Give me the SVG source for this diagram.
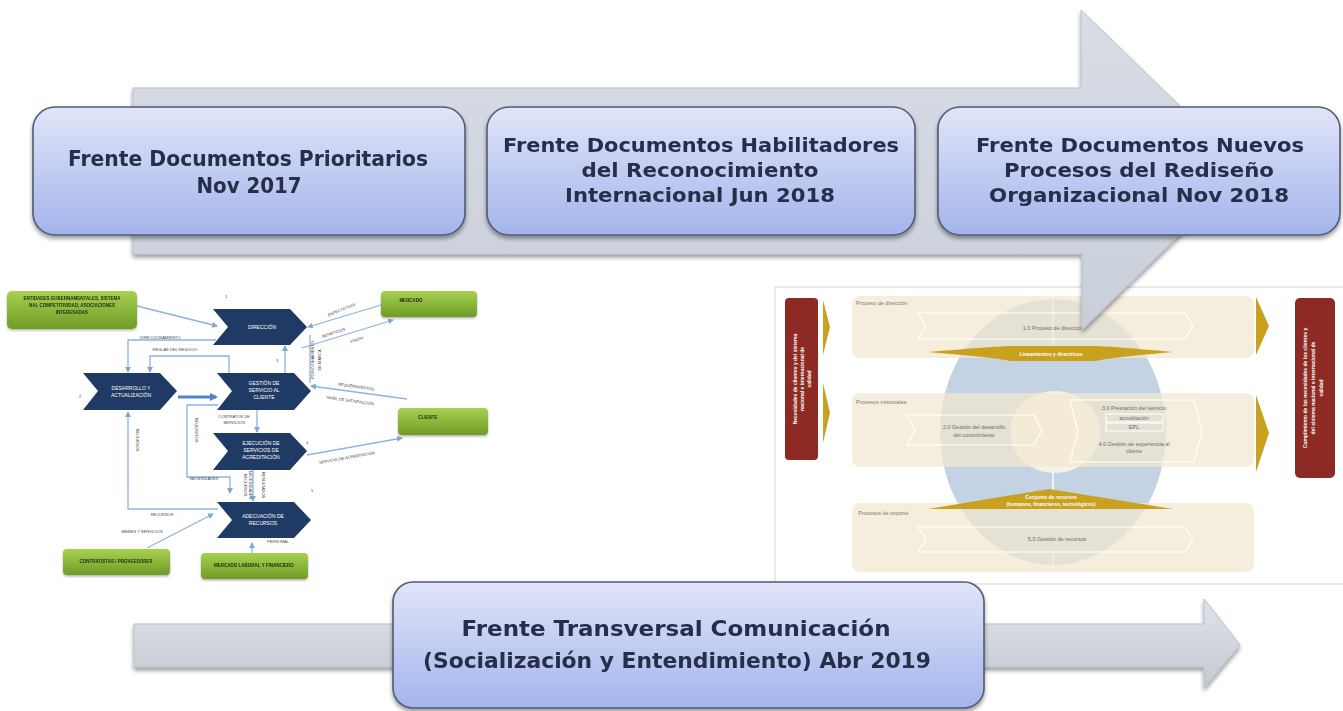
<svg xmlns="http://www.w3.org/2000/svg" width="1343" height="711" viewBox="0 0 1343 711">
<defs>
<linearGradient id="gBox" x1="0" y1="0" x2="0" y2="1"><stop offset="0" stop-color="#e1e5f8"/><stop offset="1" stop-color="#a4b4ec"/></linearGradient>
<linearGradient id="gArrow" x1="0" y1="0" x2="0" y2="1"><stop offset="0" stop-color="#d9dde6"/><stop offset="1" stop-color="#c9cfda"/></linearGradient>
<linearGradient id="gArrow2" x1="0" y1="0" x2="0" y2="1"><stop offset="0" stop-color="#e0e3ea"/><stop offset="1" stop-color="#c3c8d2"/></linearGradient>
<linearGradient id="gGreen" x1="0" y1="0" x2="0" y2="1"><stop offset="0" stop-color="#a8d150"/><stop offset="1" stop-color="#6f9c27"/></linearGradient>
<filter id="sh" x="-10%" y="-10%" width="120%" height="130%"><feDropShadow dx="0" dy="3" stdDeviation="2" flood-color="#000" flood-opacity="0.4"/></filter>
<filter id="shs" x="-10%" y="-10%" width="120%" height="140%"><feDropShadow dx="0" dy="1.5" stdDeviation="1" flood-color="#000" flood-opacity="0.3"/></filter>
<marker id="ah" markerWidth="6" markerHeight="6" refX="5" refY="3" orient="auto" markerUnits="userSpaceOnUse"><path d="M0,0 L6,3 L0,6 Z" fill="#7fa8dc"/></marker>
<marker id="ahb" markerWidth="8" markerHeight="8" refX="6" refY="4" orient="auto" markerUnits="userSpaceOnUse"><path d="M0,0 L8,4 L0,8 Z" fill="#4f85c9"/></marker>
<style>
.box{fill:url(#gBox);stroke:#515b74;stroke-width:1.6}
.lbl{font-family:"DejaVu Sans",sans-serif;font-weight:bold;fill:#262d48;text-anchor:middle}
.grn{fill:url(#gGreen)}
.gt{font-family:"Liberation Sans",sans-serif;font-weight:bold;font-size:4.5px;fill:#1e2a10;text-anchor:middle}
.chev{fill:#1f3a64}
.ct{font-family:"Liberation Sans",sans-serif;font-size:5px;fill:#ffffff;text-anchor:middle}
.cn{fill:none;stroke:#8db3e2;stroke-width:1.3}
.cl{font-family:"Liberation Sans",sans-serif;font-size:4px;fill:#444;text-anchor:middle}
.pt{font-family:"Liberation Sans",sans-serif;font-size:5.5px;fill:#7a7a7a}
.pc{font-family:"Liberation Sans",sans-serif;font-size:5.5px;fill:#6a6a6a;text-anchor:middle}
.wt{font-family:"Liberation Sans",sans-serif;font-weight:bold;font-size:5px;fill:#ffffff;text-anchor:middle}
.panel{fill:#f3e8cf;opacity:0.72}
.pch{fill:none;stroke:#ffffff;stroke-width:1.2}
.gold{fill:#c9a11e}
.red{fill:#8d2a24}
</style>
</defs>
<rect width="1343" height="711" fill="#ffffff"/>

<!-- left process map -->
<g id="processmap">
<g id="connectors">
<path class="cn" d="M137,306 L217,326" marker-end="url(#ah)"/>
<path class="cn" d="M216,340 H128 V372" marker-end="url(#ah)"/>
<path class="cn" d="M229,373 V356 H150 V372" marker-end="url(#ah)"/>
<path d="M178,397 H216" stroke="#4f85c9" stroke-width="3" fill="none" marker-end="url(#ahb)"/>
<path class="cn" d="M285,373 V346" marker-end="url(#ah)"/>
<path class="cn" d="M381,305 L308,327" marker-end="url(#ah)"/>
<path class="cn" d="M302,348 L393,320" marker-end="url(#ah)"/>
<path class="cn" d="M310,335 V383"/>
<path class="cn" d="M407,399 L311,386" marker-end="url(#ah)"/>
<path class="cn" d="M257,410 V432" marker-end="url(#ah)"/>
<path class="cn" d="M307,455 L402,438" marker-end="url(#ah)"/>
<path class="cn" d="M218,405 H187 V477 H230 V493" marker-end="url(#ah)"/>
<path class="cn" d="M218,509 H128 V412" marker-end="url(#ah)"/>
<path class="cn" d="M147,548 L213,514" marker-end="url(#ah)"/>
<path class="cn" d="M252,553 V543" marker-end="url(#ah)"/>
<path class="cn" d="M253,470 V501" marker-end="url(#ah)"/>
<text class="cl" x="160" y="339">DIRECCIONAMIENTO</text>
<text class="cl" x="175" y="351">REGLAS DEL NEGOCIO</text>
<text class="cl" transform="translate(342,311) rotate(-22)">EXPECTATIVAS</text>
<text class="cl" transform="translate(334,334) rotate(-18)">BENEFICIOS</text>
<text class="cl" transform="translate(357,341) rotate(-18)">VISIÓN</text>
<text class="cl" transform="translate(314,360) rotate(-90)">POSICIONAMIENTO</text>
<text class="cl" transform="translate(321,360) rotate(-90)">DE MARCA</text>
<text class="cl" transform="translate(356,388) rotate(8)">REQUERIMIENTOS</text>
<text class="cl" transform="translate(350,402) rotate(8)">NIVEL DE SATISFACCIÓN</text>
<text class="cl" x="234" y="418">CONTRATOS DE</text>
<text class="cl" x="234" y="424">SERVICIOS</text>
<text class="cl" transform="translate(347,459) rotate(-10)">SERVICIO DE ACREDITACIÓN</text>
<text class="cl" transform="translate(195,430) rotate(90)">REQUISITOS</text>
<text class="cl" x="204" y="480">NECESIDADES</text>
<text class="cl" transform="translate(136,440) rotate(90)">RECURSOS</text>
<text class="cl" x="162" y="516">RECURSOS</text>
<text class="cl" x="142" y="533">BIENES Y SERVICIOS</text>
<text class="cl" x="278" y="543">PERSONAL</text>
<text class="cl" transform="translate(244,485) rotate(90)">RECURSOS</text>
<text class="cl" transform="translate(249,485) rotate(90)">NECESIDADES</text>
<text class="cl" transform="translate(262,485) rotate(90)">RESULTADOS</text>
<text class="cl" x="226" y="298">1</text>
<text class="cl" x="80" y="398">2</text>
<text class="cl" x="277" y="362">3</text>
<text class="cl" x="307" y="444">4</text>
<text class="cl" x="312" y="492">5</text>
</g>
<g id="g-entidades" filter="url(#shs)"><rect class="grn" x="7" y="291" width="130" height="38" rx="5"/>
<text class="gt" x="72" y="300">ENTIDADES GUBERNAMENTALES, SISTEMA</text>
<text class="gt" x="72" y="307">NAL COMPETITIVIDAD, ASOCIACIONES</text>
<text class="gt" x="72" y="314">INTERESADAS</text></g>
<g id="g-mercado" filter="url(#shs)"><rect class="grn" x="381" y="291" width="96" height="26" rx="4"/><text class="gt" x="411" y="302">MERCADO</text></g>
<g id="g-cliente" filter="url(#shs)"><rect class="grn" x="398" y="408" width="90" height="27" rx="4"/><text class="gt" x="428" y="419">CLIENTE</text></g>
<g id="g-contratistas" filter="url(#shs)"><rect class="grn" x="63" y="549" width="107" height="26" rx="4"/><text class="gt" x="116" y="563">CONTRATISTAS / PROVEEDORES</text></g>
<g id="g-laboral" filter="url(#shs)"><rect class="grn" x="201" y="553" width="107" height="26" rx="4"/><text class="gt" x="254" y="567">MERCADO LABORAL Y FINANCIERO</text></g>
<g id="c-direccion"><polygon class="chev" points="213,309 290,309 307,327 290,345 213,345 228,327"/><text class="ct" x="262" y="329">DIRECCIÓN</text></g>
<g id="c-desarrollo"><polygon class="chev" points="83,373 160,373 177,391 160,410 83,410 98,391"/><text class="ct" x="131" y="390">DESARROLLO Y</text><text class="ct" x="131" y="397">ACTUALIZACIÓN</text></g>
<g id="c-gestion"><polygon class="chev" points="217,373 294,373 311,391 294,410 217,410 232,391"/><text class="ct" x="264" y="385">GESTIÓN DE</text><text class="ct" x="264" y="392">SERVICIO AL</text><text class="ct" x="264" y="399">CLIENTE</text></g>
<g id="c-ejecucion"><polygon class="chev" points="213,433 290,433 307,451 290,470 213,470 228,451"/><text class="ct" x="261" y="445">EJECUCIÓN DE</text><text class="ct" x="261" y="452">SERVICIOS DE</text><text class="ct" x="261" y="459">ACREDITACIÓN</text></g>
<g id="c-adecuacion"><polygon class="chev" points="217,502 294,502 311,520 294,538 217,538 232,520"/><text class="ct" x="263" y="518">ADECUACIÓN DE</text><text class="ct" x="263" y="525">RECURSOS</text></g>
</g>

<!-- right process model -->
<g id="processmodel">
<rect x="775" y="287" width="570" height="297" fill="#ffffff" stroke="#d4d4d4" stroke-width="1"/>
<ellipse cx="1053" cy="432" rx="113" ry="133" fill="#c3d3e4"/>
<ellipse cx="1055" cy="432" rx="45" ry="41" fill="#f6f2e8"/>
<path d="M1053,300 V350 M1053,470 V490 M1053,552 V565" stroke="#eef2f6" stroke-width="2"/>
<rect class="panel" x="852" y="296" width="402" height="62" rx="8"/>
<rect class="panel" x="852" y="393" width="402" height="74" rx="8"/>
<rect class="panel" x="852" y="503" width="402" height="69" rx="8"/>
<text class="pt" x="856" y="305">Proceso de dirección</text>
<text class="pt" x="856" y="404">Procesos misionales</text>
<text class="pt" x="858" y="515">Procesos de soporte</text>
<polygon class="pch" points="918,313 1185,313 1193,326 1185,339 918,339 926,326"/>
<text class="pc" x="1053" y="330">1.0 Proceso de dirección</text>
<polygon class="pch" points="907,415 1034,415 1042,430 1034,445 907,445 915,430"/>
<text class="pc" x="974" y="429">2.0 Gestión del desarrollo</text>
<text class="pc" x="974" y="437">del conocimiento</text>
<polygon class="pch" points="1070,400 1194,400 1202,431 1194,462 1070,462 1078,431"/>
<text class="pc" x="1134" y="410">3.0 Prestación del servicio</text>
<rect x="1106" y="414" width="57" height="8" fill="none" stroke="#ffffff" stroke-width="1"/>
<text class="pc" x="1134" y="420">acreditación</text>
<rect x="1106" y="423" width="57" height="8" fill="none" stroke="#ffffff" stroke-width="1"/>
<text class="pc" x="1134" y="429">EPL</text>
<text class="pc" x="1134" y="446">4.0 Gestión de experiencia al</text>
<text class="pc" x="1134" y="453">cliente</text>
<polygon class="pch" points="918,527 1185,527 1193,539 1185,552 918,552 926,539"/>
<text class="pc" x="1057" y="541">5.0 Gestión de recursos</text>
<path class="gold" d="M928,352 Q1000,346 1010,346 H1096 Q1106,346 1173,352 Q1106,358 1096,361 H1010 Q1000,358 928,352 Z"/>
<text class="wt" x="1051" y="356">Lineamientos y directrices</text>
<path class="gold" d="M1049,489 L1173,509 H928 Z"/>
<text class="wt" x="1051" y="499">Conjunto de recursos</text>
<text class="wt" x="1051" y="506">(humanos, financieros, tecnológicos)</text>
<rect class="red" x="785" y="298" width="33" height="162" rx="4"/>
<text class="wt" transform="translate(797,379) rotate(-90)">Necesidades de clientes y del sistema</text>
<text class="wt" transform="translate(804,379) rotate(-90)">nacional e internacional de</text>
<text class="wt" transform="translate(811,379) rotate(-90)">calidad</text>
<polygon class="gold" points="823,300 830,327 823,355"/>
<polygon class="gold" points="823,383 830,413 823,443"/>
<polygon class="gold" points="1256,297 1269,326 1256,355"/>
<polygon class="gold" points="1256,395 1269,433 1256,472"/>
<rect class="red" x="1295" y="298" width="40" height="180" rx="5"/>
<text class="wt" transform="translate(1307,388) rotate(-90)">Cumplimiento de las necesidades de los clientes y</text>
<text class="wt" transform="translate(1315,388) rotate(-90)">del sistema nacional e internacional de</text>
<text class="wt" transform="translate(1323,388) rotate(-90)">calidad</text>
</g>

<!-- main timeline arrow -->
<g id="timeline-arrow" filter="url(#sh)">
<path d="M133,88 H1081 V10 L1246,170 L1082,330 V254 H133 Z" fill="url(#gArrow)" stroke="#b9bfca" stroke-width="1"/>
</g>

<g id="n1" filter="url(#sh)"><rect class="box" x="33" y="107" width="432" height="128" rx="22"/>
<text class="lbl" x="248" y="166" font-size="21" textLength="360" lengthAdjust="spacingAndGlyphs">Frente Documentos Prioritarios</text>
<text class="lbl" x="249" y="193" font-size="21" textLength="105" lengthAdjust="spacingAndGlyphs">Nov 2017</text></g>
<g id="n2" filter="url(#sh)"><rect class="box" x="487" y="107" width="428" height="128" rx="22"/>
<text class="lbl" x="701" y="152" font-size="20" textLength="396" lengthAdjust="spacingAndGlyphs">Frente Documentos Habilitadores</text>
<text class="lbl" x="700" y="177" font-size="20" textLength="237" lengthAdjust="spacingAndGlyphs">del Reconocimiento</text>
<text class="lbl" x="700" y="202" font-size="20" textLength="270" lengthAdjust="spacingAndGlyphs">Internacional Jun 2018</text></g>
<g id="n3" filter="url(#sh)"><rect class="box" x="938" y="107" width="402" height="128" rx="22"/>
<text class="lbl" x="1140" y="152" font-size="20" textLength="328" lengthAdjust="spacingAndGlyphs">Frente Documentos Nuevos</text>
<text class="lbl" x="1139" y="177" font-size="20" textLength="270" lengthAdjust="spacingAndGlyphs">Procesos del Rediseño</text>
<text class="lbl" x="1139" y="202" font-size="20" textLength="300" lengthAdjust="spacingAndGlyphs">Organizacional Nov 2018</text></g>

<!-- bottom arrow -->
<g id="comm-arrow" filter="url(#sh)">
<path d="M134,624 H1204 V599 L1240,645 L1204,688 V667 H134 Z" fill="url(#gArrow2)" stroke="#b9bfca" stroke-width="1"/>
</g>
<g id="n4" filter="url(#sh)"><rect class="box" x="393" y="582" width="591" height="126" rx="20"/>
<text class="lbl" x="676" y="636" font-size="22" textLength="429" lengthAdjust="spacingAndGlyphs">Frente Transversal Comunicación</text>
<text class="lbl" x="677" y="668" font-size="22" textLength="508" lengthAdjust="spacingAndGlyphs">(Socialización y Entendimiento) Abr 2019</text></g>
</svg>
